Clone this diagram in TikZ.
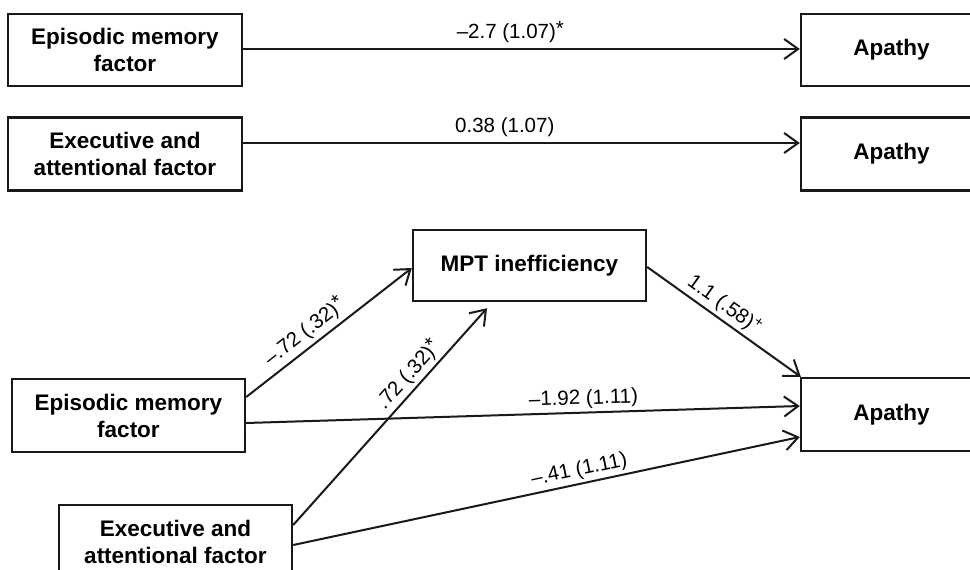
\documentclass[tikz,border=0pt]{standalone}
\usepackage{fontspec}
\setmainfont{Liberation Sans}
\usetikzlibrary{arrows.meta}
\newcommand{\sig}{\raisebox{3pt}{*}}
\begin{document}
\begin{tikzpicture}[x=1pt,y=-1pt,
  box/.style={draw=black!90,line width=2.4pt,rectangle,inner sep=0pt,align=center,
    font=\fontsize{22.5}{27}\selectfont\bfseries},
  conn/.style={draw=black!90,line width=2pt,-{Straight Barb[length=14pt,width=20pt,line width=2pt]}},
  lab/.style={font=\fontsize{20.5}{24}\selectfont,inner sep=3pt}]
\clip (0,0) rectangle (970,570);
\fill[white] (0,0) rectangle (970,570);
% top panel
\node[box,minimum width=234pt,minimum height=72pt] (ep1) at (125,50) {Episodic memory\\factor};
\node[box,minimum width=234pt,minimum height=73pt] (ex1) at (125,154) {Executive and\\attentional factor};
\node[box,minimum width=181pt,minimum height=72pt] (ap1) at (891.5,50) {Apathy};
\node[box,minimum width=181pt,minimum height=73pt] (ap2) at (891.5,154) {Apathy};
\draw[conn] ([yshift=1pt]ep1.east) -- node[lab,pos=0.48,above=2pt] {–2.7 (1.07)\sig} ([yshift=1pt]ap1.west);
\draw[conn] ([yshift=11pt]ex1.east) -- node[lab,pos=0.47,above=2pt] {0.38 (1.07)} ([yshift=11pt]ap2.west);
% bottom panel
\node[box,minimum width=233pt,minimum height=71pt] (mpt) at (529.5,265.5) {MPT inefficiency};
\node[box,minimum width=233pt,minimum height=73pt] (ep2) at (128.5,415.5) {Episodic memory\\factor};
\node[box,minimum width=233pt,minimum height=73pt] (ex2) at (175.5,541.5) {Executive and\\attentional factor};
\node[box,minimum width=181pt,minimum height=73pt] (ap3) at (891.5,414.5) {Apathy};
\draw[conn] ([yshift=18.5pt]ep2.east) -- node[lab,pos=0.41,sloped,above=1pt] {–.72 (.32)\sig} ([yshift=-2.5pt]mpt.west);
\draw[conn] ([yshift=16.5pt]ex2.east) -- node[lab,pos=0.65,sloped,above] {.72 (.32)\sig} ([xshift=-42.5pt,yshift=-6pt]mpt.south);
\draw[conn] ([yshift=-1.5pt]mpt.east) -- node[lab,pos=0.45,sloped,above] {1.1 (.58)\textsuperscript{+}} ([xshift=1pt]ap3.north west);
\draw[conn] ([yshift=-7.5pt]ep2.east) -- node[lab,pos=0.61,sloped,above] {–1.92 (1.11)} ([yshift=8.5pt]ap3.west);
\draw[conn] ([yshift=-3.5pt]ex2.east) -- node[lab,pos=0.57,sloped,above] {–.41 (1.11)} ([yshift=-22.5pt]ap3.west);
\end{tikzpicture}
\end{document}
